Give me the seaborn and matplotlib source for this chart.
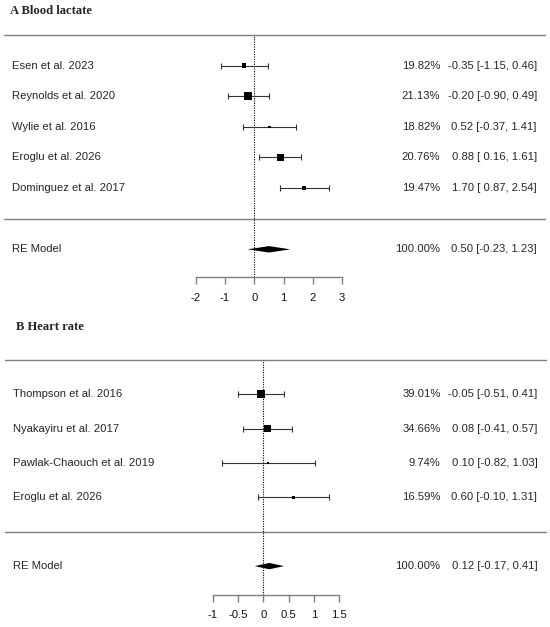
import numpy as np
import matplotlib
matplotlib.use("Agg")
import matplotlib.pyplot as plt
import seaborn as sns

# ---------------- data ----------------
title_A = "A Blood lactate"
studies_A = ["Esen et al. 2023", "Reynolds et al. 2020", "Wylie et al. 2016",
             "Eroglu et al. 2026", "Dominguez et al. 2017"]
est_A = [-0.35, -0.20, 0.52, 0.88, 1.70]
lo_A = [-1.15, -0.90, -0.37, 0.16, 0.87]
hi_A = [0.46, 0.49, 1.41, 1.61, 2.54]
wt_A = [19.82, 21.13, 18.82, 20.76, 19.47]
re_A = [0.50, -0.23, 1.23]
ticks_A = [-2, -1, 0, 1, 2, 3]

title_B = "B Heart rate"
studies_B = ["Thompson et al. 2016", "Nyakayiru et al. 2017",
             "Pawlak-Chaouch et al. 2019", "Eroglu et al. 2026"]
est_B = [-0.05, 0.08, 0.10, 0.60]
lo_B = [-0.51, -0.41, -0.82, -0.10]
hi_B = [0.41, 0.57, 1.03, 1.31]
wt_B = [39.01, 34.66, 9.74, 16.59]
re_B = [0.12, -0.17, 0.41]
ticks_B = [-1, -0.5, 0, 0.5, 1, 1.5]

re_label = "RE Model"

# ---------------- style ----------------
sns.set_theme(style="white")
plt.rcParams["font.family"] = ["Liberation Sans", "DejaVu Sans"]
plt.rcParams["axes.unicode_minus"] = False

W, H = 550, 627
fig = plt.figure(figsize=(W / 100, H / 100), dpi=100)

FS = 8.1
GRAY = "#7f7f7f"
CI_COL = "#333333"


def fmt_ci(e, l, h):
    return f"{e:.2f} [{l:5.2f}, {h:.2f}]"


def panel(rect, xlim, ylim, title, title_y, title_x, studies, est, lo, hi, wt, re,
          ticks, diamond_h, line_x, pct_x, est_x, lab_x):
    ax = fig.add_axes(rect)
    k = len(studies)
    rows = np.arange(k, 0, -1).astype(float)
    est = np.asarray(est); lo = np.asarray(lo); hi = np.asarray(hi); wt = np.asarray(wt)

    ax.set_xlim(*xlim)
    ax.set_ylim(*ylim)

    # separator lines
    for yl in (k + 1, 0):
        ax.axhline(yl, xmin=line_x[0], xmax=line_x[1], color=GRAY, lw=1.0)

    # reference line
    ax.plot([0, 0], [ylim[0], k + 1], ls=(0, (1, 1.2)), color="black", lw=0.8)

    # CIs
    ax.errorbar(est, rows, xerr=[est - lo, hi - est], fmt="none", ecolor=CI_COL,
                elinewidth=0.8, capsize=2.0, capthick=0.8)

    # squares: side scaled linearly with weight
    side_pt = 1.6 + (wt - wt.min()) / (wt.max() - wt.min()) * (5.8 - 1.6)
    sns.scatterplot(x=est, y=rows, marker="s", color="black", s=side_pt ** 2,
                    linewidth=0, ax=ax, legend=False, zorder=5)

    # summary diamond
    e, l, h = re
    ax.fill([l, e, h, e], [-1, -1 + diamond_h, -1, -1 - diamond_h],
            color="black", lw=0, zorder=5)

    # text
    tr = ax.get_yaxis_transform()
    for r, name, w_, e_, l_, h_ in zip(rows, studies, wt, est, lo, hi):
        ax.text(lab_x, r, name, transform=tr, ha="left", va="center", fontsize=FS)
        ax.text(pct_x, r, f"{w_:.2f}%", transform=tr, ha="right", va="center", fontsize=FS)
        ax.text(est_x, r, fmt_ci(e_, l_, h_), transform=tr, ha="right", va="center", fontsize=FS)
    ax.text(lab_x, -1, re_label, transform=tr, ha="left", va="center", fontsize=FS)
    ax.text(pct_x, -1, f"{100:.2f}%", transform=tr, ha="right", va="center", fontsize=FS)
    ax.text(est_x, -1, fmt_ci(e, l, h), transform=tr, ha="right", va="center", fontsize=FS)

    ax.text(title_x, title_y, title, transform=tr, ha="left", va="center",
            fontsize=9.1, fontweight="bold", family=["Liberation Serif", "DejaVu Serif"])

    # axis
    for s in ("top", "left", "right"):
        ax.spines[s].set_visible(False)
    ax.spines["bottom"].set_bounds(ticks[0], ticks[-1])
    ax.spines["bottom"].set_color(GRAY)
    ax.spines["bottom"].set_linewidth(1.0)
    ax.set_yticks([])
    ax.set_xticks(ticks)
    ax.set_xticklabels([f"{t:g}" for t in ticks])
    ax.tick_params(axis="x", direction="out", length=5, width=1.0, color=GRAY,
                   labelsize=FS, labelcolor="#111111", pad=6, bottom=True)
    ax.patch.set_alpha(0)
    return ax


# panel A: pixel geometry -> axes rect
axA_top, axA_bot = 0.0, 277.5
panel([0, 1 - axA_bot / H, 1, (axA_bot - axA_top) / H],
      xlim=(-254.3 / 29.3, (W - 254.3) / 29.3), ylim=(-1.92, 7.14),
      title=title_A, title_y=6.79, title_x=0.019,
      studies=studies_A, est=est_A, lo=lo_A, hi=hi_A, wt=wt_A, re=re_A,
      ticks=ticks_A, diamond_h=0.105, line_x=(0.0076, 0.991),
      pct_x=0.800, est_x=0.976, lab_x=0.0224)

axB_top, axB_bot = 310.0, 595.0
panel([0, 1 - axB_bot / H, 1, (axB_bot - axB_top) / H],
      xlim=(-263.3 / 50.5, (W - 263.3) / 50.5), ylim=(-1.84, 6.446),
      title=title_B, title_y=5.96, title_x=0.0287,
      studies=studies_B, est=est_B, lo=lo_B, hi=hi_B, wt=wt_B, re=re_B,
      ticks=ticks_B, diamond_h=0.092, line_x=(0.0096, 0.993),
      pct_x=0.801, est_x=0.977, lab_x=0.0242)

fig.savefig("out.png", dpi=100)
